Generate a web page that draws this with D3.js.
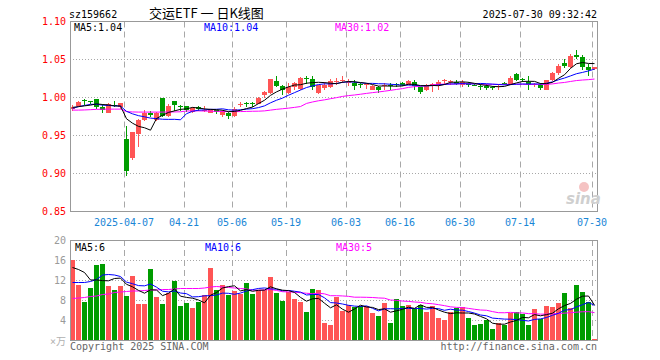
<!DOCTYPE html>
<html><head><meta charset="utf-8">
<script src="https://cdn.jsdelivr.net/npm/d3@7"></script>
<style>body{margin:0;background:#fff}svg{display:block}</style>
</head><body><svg id="c" width="660" height="360"></svg>
<script>
const dates = ["2025-03-24","2025-03-25","2025-03-26","2025-03-27","2025-03-28","2025-03-31",
"2025-04-01","2025-04-02","2025-04-03","2025-04-07","2025-04-08","2025-04-09","2025-04-10","2025-04-11",
"2025-04-14","2025-04-15","2025-04-16","2025-04-17","2025-04-18","2025-04-21","2025-04-22","2025-04-23","2025-04-24","2025-04-25",
"2025-04-28","2025-04-29","2025-04-30","2025-05-06","2025-05-07","2025-05-08","2025-05-09",
"2025-05-12","2025-05-13","2025-05-14","2025-05-15","2025-05-16","2025-05-19","2025-05-20","2025-05-21","2025-05-22","2025-05-23",
"2025-05-26","2025-05-27","2025-05-28","2025-05-29","2025-05-30","2025-06-03","2025-06-04","2025-06-05","2025-06-06",
"2025-06-09","2025-06-10","2025-06-11","2025-06-12","2025-06-13","2025-06-16","2025-06-17","2025-06-18","2025-06-19","2025-06-20",
"2025-06-23","2025-06-24","2025-06-25","2025-06-26","2025-06-27","2025-06-30","2025-07-01","2025-07-02","2025-07-03","2025-07-04",
"2025-07-07","2025-07-08","2025-07-09","2025-07-10","2025-07-11","2025-07-14","2025-07-15","2025-07-16","2025-07-17","2025-07-18",
"2025-07-21","2025-07-22","2025-07-23","2025-07-24","2025-07-25","2025-07-28","2025-07-29","2025-07-30"];

const opens = [0.985,0.989,0.997,0.995,0.998,0.988,0.980,0.990,0.988,0.946,
0.920,0.952,0.970,0.980,0.971,1.000,0.976,0.995,0.989,0.989,
0.981,0.987,0.983,0.980,0.983,0.977,0.980,0.976,0.990,0.993,
0.993,0.992,1.003,1.006,1.022,1.015,1.006,1.014,1.011,1.026,
1.024,1.006,1.012,1.014,1.021,1.022,1.020,1.019,1.0175,1.0165,
1.0105,1.014,1.015,1.0165,1.018,1.019,1.017,1.0205,1.0135,1.0096,
1.016,1.016,1.0225,1.0215,1.020,1.016,1.019,1.017,1.0152,1.015,
1.014,1.0145,1.019,1.016,1.031,1.025,1.0205,1.016,1.017,1.0105,
1.0227,1.0323,1.046,1.040,1.056,1.053,1.040,1.038];
const highs = [0.990,0.995,0.998,0.996,0.998,0.992,0.993,0.996,0.993,0.963,
0.955,0.972,0.984,0.982,0.981,1.000,0.992,0.995,0.990,0.989,
0.987,0.989,0.989,0.985,0.984,0.983,0.981,0.987,0.994,0.994,
0.994,1.001,1.009,1.024,1.028,1.016,1.019,1.020,1.027,1.028,
1.028,1.017,1.021,1.025,1.026,1.028,1.024,1.023,1.019,1.019,
1.016,1.015,1.019,1.019,1.019,1.0205,1.0235,1.0235,1.014,1.018,
1.019,1.0235,1.025,1.023,1.023,1.0235,1.020,1.018,1.018,1.018,
1.015,1.018,1.021,1.028,1.032,1.026,1.028,1.019,1.0185,1.0236,
1.033,1.0436,1.051,1.0576,1.062,1.0554,1.0436,1.040];
const lows = [0.982,0.988,0.990,0.992,0.985,0.980,0.979,0.987,0.985,0.897,
0.918,0.935,0.969,0.975,0.969,0.975,0.975,0.982,0.982,0.981,
0.980,0.982,0.981,0.979,0.978,0.975,0.972,0.975,0.988,0.988,
0.988,0.991,1.000,1.005,1.014,1.003,1.005,1.010,1.010,1.018,
1.010,1.005,1.010,1.012,1.017,1.019,1.015,1.0105,1.012,1.011,
1.0095,1.0065,1.0105,1.0105,1.0137,1.015,1.016,1.0105,1.005,1.008,
1.0075,1.0096,1.016,1.016,1.016,1.014,1.014,1.015,1.0096,1.0105,
1.0096,1.0096,1.017,1.016,1.022,1.021,1.0096,1.014,1.0105,1.0105,
1.022,1.030,1.039,1.0393,1.0506,1.0366,1.028,1.036];
const closes = [0.988,0.994,0.995,0.994,0.987,0.984,0.991,0.989,0.993,0.903,
0.955,0.970,0.980,0.977,0.980,0.976,0.989,0.990,0.987,0.983,
0.986,0.985,0.984,0.984,0.981,0.982,0.976,0.985,0.992,0.992,
0.992,0.999,1.007,1.024,1.015,1.010,1.014,1.019,1.026,1.025,
1.014,1.016,1.017,1.022,1.022,1.0235,1.021,1.015,1.017,1.0175,
1.015,1.0105,1.016,1.016,1.017,1.0165,1.022,1.015,1.0075,1.017,
1.018,1.020,1.023,1.022,1.018,1.020,1.017,1.016,1.0135,1.013,
1.0135,1.015,1.018,1.0257,1.0236,1.023,1.016,1.0175,1.012,1.0227,
1.032,1.042,1.041,1.054,1.053,1.040,1.036,1.040];

const ma5 = [0.987,0.988,0.989,0.990,0.9916,0.9908,0.9902,0.989,0.9888,0.972,
0.9662,0.962,0.9602,0.957,0.9724,0.9766,0.9804,0.9824,0.9844,0.985,
0.987,0.9862,0.985,0.9844,0.984,0.9832,0.9814,0.9816,0.9832,0.9854,
0.9874,0.992,0.9964,1.0028,1.0074,1.011,1.014,1.0164,1.0168,1.0188,
1.0196,1.020,1.0196,1.0188,1.0182,1.0201,1.0211,1.0207,1.0197,1.0188,
1.0171,1.015,1.0152,1.015,1.0149,1.0152,1.0175,1.0173,1.0156,1.0156,
1.0159,1.0155,1.0171,1.020,1.0202,1.0206,1.020,1.0186,1.0169,1.0159,
1.0146,1.0142,1.0146,1.017,1.0192,1.0211,1.0213,1.0212,1.0184,1.0182,
1.020,1.0252,1.0299,1.0383,1.0444,1.046,1.0448,1.0446];
const ma10 = [0.9856,0.988,0.9895,0.991,0.991,0.990,0.9895,0.989,0.9887,0.9818,
0.9785,0.9761,0.9746,0.9729,0.9722,0.9714,0.9712,0.9713,0.9707,0.9787,
0.9818,0.9833,0.9837,0.9844,0.9845,0.9851,0.9838,0.9833,0.9838,0.9847,
0.9853,0.9867,0.989,0.993,0.9964,0.9992,1.003,1.0064,1.0098,1.0131,
1.0153,1.017,1.018,1.0178,1.0185,1.0199,1.0206,1.0202,1.0193,1.0185,
1.0186,1.0181,1.018,1.0174,1.0169,1.0162,1.0163,1.0163,1.0153,1.0153,
1.0156,1.0165,1.0172,1.0178,1.0179,1.0183,1.0178,1.0179,1.0185,1.0181,
1.0176,1.0171,1.0166,1.017,1.0175,1.0178,1.0177,1.0179,1.0177,1.0187,
1.0206,1.0233,1.0256,1.0284,1.0313,1.033,1.035,1.0373];
const ma30 = [0.9834,0.9834,0.9836,0.984,0.9844,0.9846,0.9847,0.9847,0.9847,0.9815,
0.981,0.9808,0.9808,0.9808,0.9808,0.9808,0.9809,0.981,0.9812,0.9822,
0.9824,0.9824,0.9822,0.982,0.9818,0.9816,0.9814,0.9814,0.9815,0.9817,
0.9819,0.982,0.9824,0.9834,0.9844,0.9852,0.986,0.987,0.9881,0.9922,
0.9941,0.9957,0.9969,0.9984,0.9998,1.0014,1.0025,1.0033,1.0043,1.0054,
1.0064,1.0073,1.0083,1.0094,1.0106,1.0117,1.0133,1.0143,1.0148,1.0156,
1.0165,1.0172,1.0177,1.0177,1.0178,1.0181,1.0182,1.0181,1.0177,1.0173,
1.0173,1.0172,1.0173,1.0174,1.0174,1.0174,1.0172,1.0173,1.0172,1.0173,
1.0179,1.019,1.0198,1.0211,1.0223,1.023,1.0235,1.0243];

const volumes = [16.0,11.0,7.7,10.4,15.0,15.3,10.8,10.0,10.8,8.8,
12.8,7.2,7.2,14.2,8.6,7.2,9.4,11.8,6.8,7.4,
6.4,7.6,9.0,14.4,10.0,11.0,9.0,9.8,9.3,11.4,
9.2,10.0,10.0,12.6,9.4,7.8,9.6,8.2,7.6,5.6,
10.2,10.0,3.4,3.0,8.6,5.8,7.0,6.6,6.8,6.8,
5.4,4.8,7.4,3.4,8.2,6.8,7.0,6.2,7.0,5.6,
6.8,4.4,4.0,5.6,6.4,6.6,4.4,3.0,3.2,4.0,
2.2,3.4,3.0,5.4,5.6,5.2,3.0,6.2,4.2,6.8,
6.6,7.4,9.4,6.4,11.0,9.6,7.6,0.2];
const vma5 = [14.5,14.1,13.5,12.0,12.02,11.88,11.84,12.3,12.38,11.14,
10.64,9.92,9.36,10.04,10.0,8.88,9.32,10.24,8.76,8.52,
8.36,8.0,7.44,8.96,9.48,10.4,10.68,10.84,9.82,10.1,
9.74,9.94,9.98,10.64,10.24,9.96,9.88,9.52,8.52,7.76,
8.24,8.32,7.36,6.44,7.04,6.16,5.56,6.2,6.96,6.6,
6.52,6.08,6.24,5.56,5.84,6.12,6.56,6.32,7.04,6.52,
6.52,6.0,5.56,5.28,5.44,5.4,5.4,5.2,4.72,4.24,
3.36,3.16,3.16,3.6,3.92,4.52,4.44,5.08,4.84,5.08,
5.36,6.24,6.88,7.32,8.16,8.76,8.8,6.96];
const vma10 = [11.5,11.5,11.5,11.7,12.1,13.0,13.1,13.0,12.7,11.58,
11.26,10.88,10.83,11.21,10.57,9.76,9.62,9.8,9.4,9.26,
8.62,8.66,8.84,8.86,9.0,9.38,9.34,9.14,9.39,9.79,
10.07,10.31,10.41,10.23,10.17,9.85,9.91,9.75,9.58,9.0,
9.1,9.1,8.44,7.48,7.4,7.2,6.94,6.78,6.7,6.82,
6.34,5.82,6.22,6.26,6.22,6.32,6.32,6.28,6.3,6.18,
6.32,6.28,5.94,6.16,5.98,5.96,5.7,5.38,5.0,4.84,
4.38,4.28,4.18,4.16,4.08,3.94,3.8,4.12,4.22,4.5,
4.94,5.34,5.98,6.08,6.62,7.06,7.52,6.92];
const vma30 = [8.3,8.4,8.5,8.7,8.8,9.1,9.2,9.5,9.6,9.7,
9.8,9.8,9.9,10.0,10.0,10.1,10.1,10.2,10.3,10.3,
10.3,10.3,10.4,10.6,10.7,10.6,10.5,10.4,10.3,10.21,
9.98,9.95,10.03,10.1,9.91,9.66,9.62,9.56,9.46,9.35,
9.26,9.36,9.23,8.86,8.86,8.81,8.73,8.56,8.56,8.54,
8.5,8.41,8.36,7.99,7.93,7.79,7.72,7.6,7.53,7.33,
7.25,7.07,6.87,6.63,6.53,6.49,6.32,6.15,6.0,5.95,
5.68,5.46,5.45,5.53,5.43,5.41,5.27,5.26,5.17,5.17,
5.21,5.3,5.37,5.47,5.56,5.65,5.67,5.47];

const priceTicks = [0.85, 0.90, 0.95, 1.00, 1.05, 1.10];
const volTicks = [4, 8, 12, 16, 20];
const tickDates = ["2025-04-07","2025-04-21","2025-05-06","2025-05-19","2025-06-03","2025-06-16","2025-06-30","2025-07-14","2025-07-30"];
const tickLabels = ["2025-04-07","04-21","05-06","05-19","06-03","06-16","06-30","07-14","07-30"];
const maLabels = ["MA5:1.04","MA10:1.04","MA30:1.02"];
const vmaLabels = ["MA5:6","MA10:6","MA30:5"];

const mono = "'DejaVu Sans Mono', 'Liberation Mono', monospace";
const UP = "#ff5555", DOWN = "#009c00", GRID = "#a8a8a8", BORDER = "#999";
const svg = d3.select("#c");
const n = dates.length;
const L = 70, R = 598;

const x = d3.scaleBand().domain(d3.range(n)).range([L, R]).paddingInner(1/6).paddingOuter(1/12).align(0);
const y = d3.scaleLinear().domain([0.85, 1.10]).range([211.5, 21.5]);
const yv = d3.scaleLinear().domain([0, 20]).range([340, 240]);
const tickIdx = tickDates.map(d => dates.indexOf(d));

// ---- main panel grid ----
const gMain = svg.append("g");
gMain.selectAll(".hg").data(priceTicks.slice(1, -1)).join("line")
  .attr("x1", L).attr("x2", R).attr("y1", d => y(d)).attr("y2", d => y(d))
  .attr("stroke", GRID).attr("stroke-dasharray", "1,2");
gMain.selectAll(".vg").data(tickIdx).join("line")
  .attr("x1", d => x(d) + 0.5).attr("x2", d => x(d) + 0.5).attr("y1", y(1.10)).attr("y2", y(0.85))
  .attr("stroke", GRID).attr("stroke-dasharray", "6,4");

// candles
const cg = svg.append("g").attr("shape-rendering", "crispEdges");
const idx = d3.range(n);
cg.selectAll(".wick").data(idx).join("rect")
  .attr("x", i => x(i) + 2).attr("width", 1)
  .attr("y", i => y(highs[i])).attr("height", i => Math.max(1, y(lows[i]) - y(highs[i])))
  .attr("fill", i => closes[i] >= opens[i] ? UP : DOWN);
cg.selectAll(".body").data(idx).join("rect")
  .attr("x", i => x(i)).attr("width", x.bandwidth())
  .attr("y", i => y(Math.max(opens[i], closes[i])))
  .attr("height", i => Math.max(1, Math.abs(y(opens[i]) - y(closes[i]))))
  .attr("fill", i => closes[i] >= opens[i] ? UP : DOWN);

// MA lines
const line = d3.line().x((d, i) => x(i) + 2.5).y(d => y(d));
[[ma30, "#ff00ff"], [ma10, "#0000ff"], [ma5, "#000"]].forEach(([arr, col]) => {
  svg.append("path").datum(arr).attr("d", line).attr("fill", "none").attr("stroke", col).attr("stroke-width", 1);
});

// border
svg.append("rect").attr("x", L + 0.5).attr("y", y(1.10)).attr("width", R - L - 1).attr("height", y(0.85) - y(1.10))
  .attr("fill", "none").attr("stroke", BORDER);

// price labels
svg.selectAll(".pl").data(priceTicks).join("text")
  .attr("x", 66).attr("y", d => y(d) + 3.5).attr("text-anchor", "end")
  .attr("font-family", mono).attr("font-size", 10).attr("fill", "#f00")
  .text(d => d.toFixed(2));

// date labels
svg.selectAll(".dl").data(tickIdx).join("text")
  .attr("x", d => x(d)).attr("y", 225.5).attr("text-anchor", "middle")
  .attr("font-family", mono).attr("font-size", 10).attr("fill", "#1a86d6")
  .text((d, i) => tickLabels[i]);

// MA legend
const maCols = ["#000", "#0000ff", "#ff00ff"];
const maX = [74, 204, 335];
maLabels.forEach((t, i) => svg.append("text").attr("x", maX[i]).attr("y", 30.5)
  .attr("font-family", mono).attr("font-size", 10).attr("fill", maCols[i]).text(t));

// sina watermark
svg.append("circle").attr("cx", 584).attr("cy", 187).attr("r", 5).attr("fill", "#f3b4b4").attr("opacity", 0.8);
svg.append("text").attr("x", 566).attr("y", 204).attr("font-family", "'DejaVu Sans', sans-serif")
  .attr("font-style", "italic").attr("font-weight", "bold").attr("font-size", 15).attr("fill", "#cfcfcf").text("sina");

// ---- volume panel ----
const gv = svg.append("g");
gv.selectAll(".vhg").data(volTicks.slice(0, -1)).join("line")
  .attr("x1", L).attr("x2", R).attr("y1", d => yv(d) + 0.5).attr("y2", d => yv(d) + 0.5)
  .attr("stroke", GRID).attr("stroke-dasharray", "1,2");
gv.selectAll(".vvg").data(tickIdx).join("line")
  .attr("x1", d => x(d) + 0.5).attr("x2", d => x(d) + 0.5).attr("y1", 240).attr("y2", 340)
  .attr("stroke", GRID).attr("stroke-dasharray", "6,4");

svg.append("g").attr("shape-rendering", "crispEdges").selectAll("rect").data(idx).join("rect")
  .attr("x", i => x(i)).attr("width", x.bandwidth())
  .attr("y", i => yv(volumes[i])).attr("height", i => yv(0) - yv(volumes[i]))
  .attr("fill", i => closes[i] >= opens[i] ? UP : DOWN);

const vline = d3.line().x((d, i) => x(i) + 2.5).y(d => yv(d));
[[vma30, "#ff00ff"], [vma10, "#0000ff"], [vma5, "#000"]].forEach(([arr, col]) => {
  svg.append("path").datum(arr).attr("d", vline).attr("fill", "none").attr("stroke", col).attr("stroke-width", 1);
});

svg.append("rect").attr("x", L + 0.5).attr("y", 240.5).attr("width", R - L - 1).attr("height", 100)
  .attr("fill", "none").attr("stroke", BORDER);

svg.selectAll(".vl").data(volTicks).join("text")
  .attr("x", 66).attr("y", d => yv(d) + 3.5).attr("text-anchor", "end")
  .attr("font-family", mono).attr("font-size", 10).attr("fill", "#9a9a9a").text(d => d);
svg.append("text").attr("x", 66).attr("y", 345).attr("text-anchor", "end")
  .attr("font-family", mono + ", 'Noto Sans CJK SC'").attr("font-size", 10).attr("fill", "#b0b0b0").text("×万");

vmaLabels.forEach((t, i) => svg.append("text").attr("x", maX[i] + 1).attr("y", 250.5)
  .attr("font-family", mono).attr("font-size", 10).attr("fill", maCols[i]).text(t));

// ---- titles ----
svg.append("text").attr("x", 69).attr("y", 17.5).attr("font-family", mono).attr("font-size", 10).attr("fill", "#000").text("sz159662");
svg.append("text").attr("x", 149).attr("y", 18).attr("font-family", "'Noto Sans CJK SC', sans-serif").attr("font-size", 13).attr("fill", "#000").text("交运ETF 一 日K线图");
svg.append("text").attr("x", 597).attr("y", 17.5).attr("text-anchor", "end").attr("font-family", mono).attr("font-size", 10).attr("fill", "#000").text("2025-07-30 09:32:42");

svg.append("text").attr("x", 70).attr("y", 349.5).attr("font-family", mono).attr("font-size", 10).attr("fill", "#666").text("Copyright 2025 SINA.COM");
svg.append("text").attr("x", 597).attr("y", 349.5).attr("text-anchor", "end").attr("font-family", mono).attr("font-size", 10).attr("fill", "#666").text("http://finance.sina.com.cn");
</script></body></html>
